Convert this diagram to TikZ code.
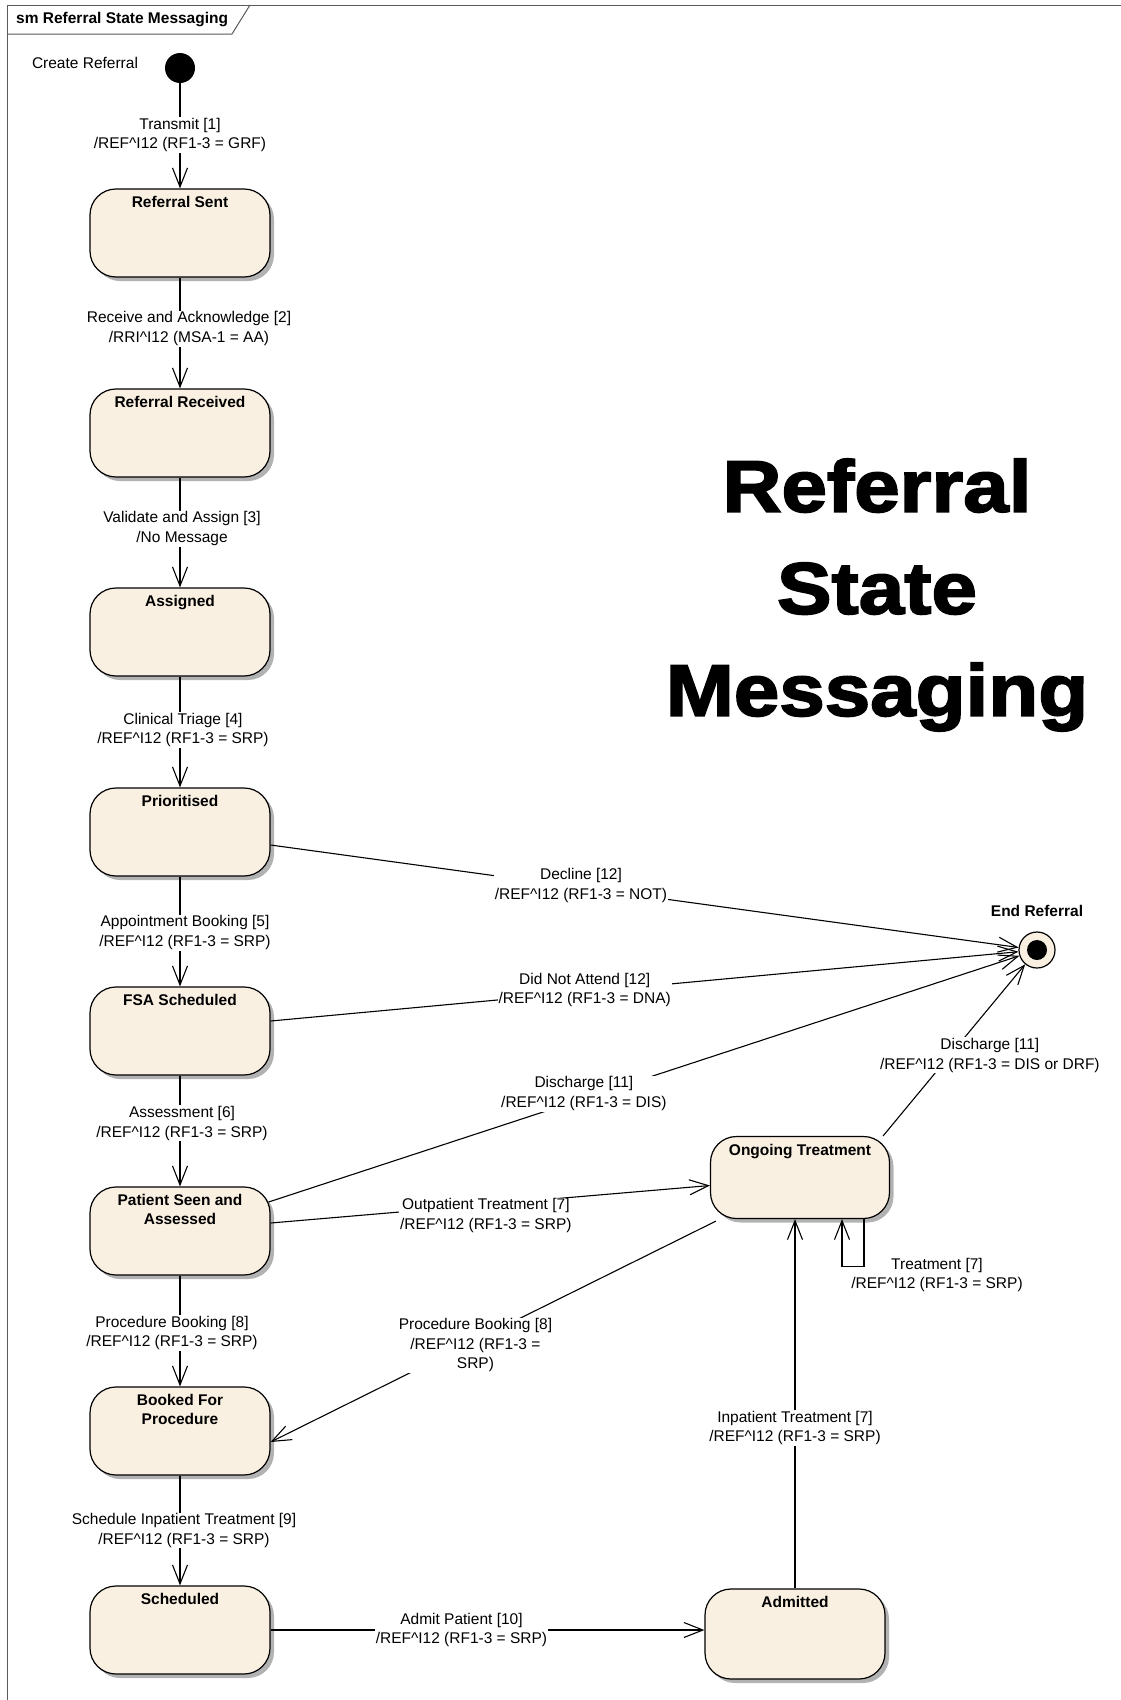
\documentclass[tikz,border=0pt]{standalone}
\usepackage{fontspec}
\setmainfont{Liberation Sans}
\newfontfamily\heavyfont{Liberation Sans}[BoldFeatures={FakeBold=2.5,FakeStretch=1.12}]
\usetikzlibrary{arrows.meta,calc,shadows}
\definecolor{stfill}{RGB}{250,240,225}
\definecolor{framecol}{RGB}{90,90,90}
\newcommand\refmsg[1]{/REF\textasciicircum I12 (RF1-3 = #1)}
\begin{document}
\begin{tikzpicture}[x=1pt,y=-1pt,
  lab/.style={font=\fontsize{15.5}{19.5}\selectfont, align=center, fill=white, inner sep=1pt},
  labnf/.style={font=\fontsize{15.5}{19.5}\selectfont, align=center, inner sep=1pt},
  ttl/.style={font=\fontsize{15.5}{19}\selectfont\bfseries, align=center, inner sep=0pt},
  stbox/.style={draw, line width=1.2pt, fill=stfill, rounded corners=26pt,
    minimum width=180pt, minimum height=88pt, inner sep=0pt,
    drop shadow={shadow xshift=4pt, shadow yshift=-4pt, opacity=.3, fill=black}},
  tr/.style={draw, line width=1.1pt, -{Straight Barb[length=19pt,width=15pt,line width=1.1pt]}},
  initst/.style={circle, fill=black, minimum size=30pt, inner sep=0pt},
  finalst/.style={circle, draw, line width=1.2pt, fill=stfill, minimum size=36pt, inner sep=0pt,
    path picture={\fill[black] (path picture bounding box.center) circle (10pt);}},
]
\fill[white] (0,0) rectangle (1121,1700);
\useasboundingbox (0,0) rectangle (1121,1700);

% frame
\draw[framecol, line width=1pt] (7,1700) -- (7,5) -- (1121,5);
\draw[framecol, line width=1pt] (7,34) -- (232,34) -- (250,5);
\node[ttl, anchor=west] (smtitle) at (16,20) {sm Referral State Messaging};

% big title
\node[font={\heavyfont\bfseries\fontsize{73}{102}\selectfont}, align=center, inner sep=0pt] (bigtitle) at (877,595) {Referral\\State\\Messaging};

% states
\node[initst] (init) at (180,68) {};
\node[font=\fontsize{15.5}{18.5}\selectfont] (crlbl) at (85,63) {Create Referral};

\node[stbox, label={[ttl,anchor=north,yshift=-8pt]north:Referral Sent}] (sent) at (180,233) {};
\node[stbox, label={[ttl,anchor=north,yshift=-8pt]north:Referral Received}] (recv) at (180,433) {};
\node[stbox, label={[ttl,anchor=north,yshift=-8pt]north:Assigned}] (asg) at (180,632) {};
\node[stbox, label={[ttl,anchor=north,yshift=-8pt]north:Prioritised}] (prio) at (180,832) {};
\node[stbox, label={[ttl,anchor=north,yshift=-8pt]north:FSA Scheduled}] (fsa) at (180,1031) {};
\node[stbox, label={[ttl,anchor=north,yshift=-8pt]north:Patient Seen and\\Assessed}] (pat) at (180,1231) {};
\node[stbox, label={[ttl,anchor=north,yshift=-8pt]north:Booked For\\Procedure}] (booked) at (180,1431) {};
\node[stbox, label={[ttl,anchor=north,yshift=-8pt]north:Scheduled}] (sched) at (180,1630) {};

\node[stbox, minimum width=179pt, minimum height=82pt, label={[ttl,anchor=north,yshift=-8pt]north:Ongoing Treatment}] (ong) at (800,1177.5) {};
\node[stbox, minimum height=90pt, label={[ttl,anchor=north,yshift=-8pt]north:Admitted}] (adm) at (795,1634) {};

\node[finalst, label={[ttl,anchor=center,yshift=20pt]north:End Referral}] (endref) at (1037,950) {};

% transitions (left column)
\draw[tr] (init) -- (sent) node[lab,pos=.49] {Transmit [1]\\\refmsg{GRF}};
\draw[tr] (sent) -- (recv) node[lab,pos=.46,xshift=9pt] {Receive and Acknowledge [2]\\/RRI\textasciicircum I12 (MSA-1 = AA)};
\draw[tr] (recv) -- (asg) node[lab,pos=.465,xshift=2pt] {Validate and Assign [3]\\/No Message};
\draw[tr] (asg) -- (prio) node[lab,pos=.48,xshift=3pt] {Clinical Triage [4]\\\refmsg{SRP}};
\draw[tr] (prio) -- (fsa) node[lab,pos=.51,xshift=5pt] {Appointment Booking [5]\\\refmsg{SRP}};
\draw[tr] (fsa) -- (pat) node[lab,pos=.43,xshift=2pt] {Assessment [6]\\\refmsg{SRP}};
\draw[tr] (pat) -- (booked) node[lab,pos=.52,xshift=-8pt] {Procedure Booking [8]\\\refmsg{SRP}};
\draw[tr] (booked) -- (sched) node[lab,pos=.5,xshift=4pt] {Schedule Inpatient Treatment [9]\\\refmsg{SRP}};

% transitions to end
\draw[tr] ($(prio.east)+(0,13)$) -- (endref) node[lab,pos=.415,yshift=2pt] {Decline [12]\\\refmsg{NOT}};
\draw[tr] ($(fsa.east)+(0,-10)$) -- (endref) node[lab,pos=.42,yshift=2pt] {Did Not Attend [12]\\\refmsg{DNA}};
\draw[tr] ($(pat.east)+(-2,-29)$) -- (endref) node[lab,pos=.42,yshift=5pt] {Discharge [11]\\\refmsg{DIS}};
\draw[tr] ($(ong.north east)+(-7,0)$) -- (endref) node[lab,pos=.47,xshift=40pt] {Discharge [11]\\\refmsg{DIS or DRF}};

% treatment transitions
\draw[tr] ($(pat.east)+(0,-8)$) -- ($(ong.west)+(0,8)$) node[lab,pos=.49,yshift=-11pt] {Outpatient Treatment [7]\\\refmsg{SRP}};
\draw[tr] ($(ong.south west)+(6,2)$) -- ($(booked.east)+(0,11)$) node[lab,pos=.54,yshift=-5pt] {Procedure Booking [8]\\/REF\textasciicircum I12 (RF1-3 =\\SRP)};
\draw[tr] ($(ong.south)+(64,0)$) -- ++(0,47) -- ++(-22,0) -- ($(ong.south)+(42,0)$);
\node[labnf] (trlbl) at ($(ong.south)+(137,56)$) {Treatment [7]\\\refmsg{SRP}};
\draw[tr] (adm.north) -- (adm.north |- ong.south) node[lab,pos=.434] {Inpatient Treatment [7]\\\refmsg{SRP}};
\draw[tr] (sched.east) -- (sched.east -| adm.west) node[lab,pos=.44] {Admit Patient [10]\\\refmsg{SRP}};
\end{tikzpicture}
\end{document}
